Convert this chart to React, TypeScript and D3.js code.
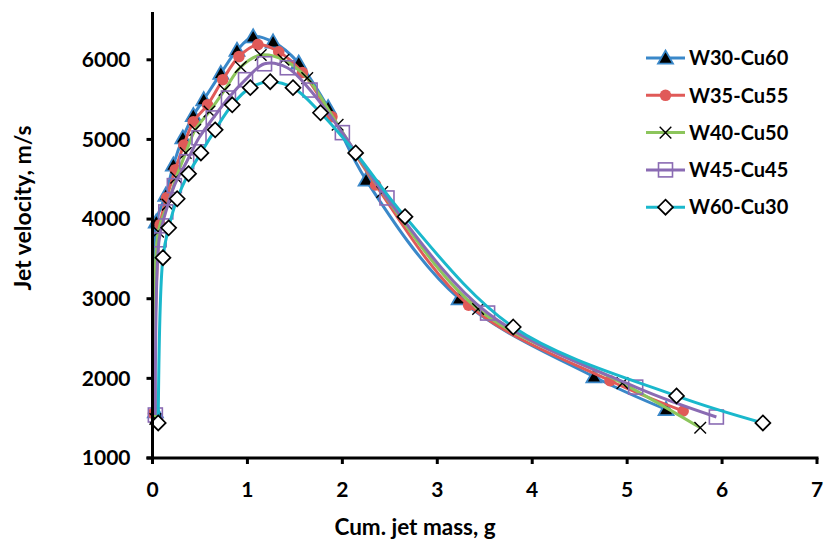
import React, { useEffect, useRef } from 'react';
import * as d3 from 'd3';

// Cum. jet mass (g) / jet velocity (m/s)
const w30Mass = [0.03, 0.04, 0.14, 0.22, 0.32, 0.43, 0.54, 0.72, 0.89, 1.06, 1.27, 1.54, 1.85, 2.25, 3.23, 4.65, 5.41];
const w30Vel = [1580, 3965, 4300, 4680, 5020, 5300, 5500, 5830, 6120, 6290, 6225, 5960, 5400, 4490, 3000, 2020, 1610];

const w35Mass = [0.01, 0.08, 0.15, 0.24, 0.33, 0.43, 0.58, 0.74, 0.91, 1.11, 1.33, 1.58, 1.89, 2.35, 3.33, 4.82, 5.59];
const w35Vel = [1560, 3930, 4270, 4620, 4930, 5220, 5435, 5750, 6040, 6190, 6100, 5840, 5285, 4430, 2920, 1970, 1590];

const w40Mass = [0.03, 0.06, 0.16, 0.25, 0.35, 0.45, 0.6, 0.76, 0.93, 1.14, 1.38, 1.63, 1.95, 2.42, 3.43, 4.95, 5.77];
const w40Vel = [1490, 3840, 4180, 4520, 4830, 5120, 5350, 5620, 5910, 6060, 6000, 5770, 5185, 4340, 2870, 1940, 1380];

const w45Mass = [0.03, 0.07, 0.14, 0.23, 0.36, 0.49, 0.64, 0.8, 0.98, 1.18, 1.42, 1.66, 2.0, 2.47, 3.53, 5.09, 5.94];
const w45Vel = [1540, 3740, 4090, 4420, 4720, 5020, 5270, 5520, 5750, 5950, 5900, 5620, 5085, 4265, 2820, 1890, 1515];

const w60Mass = [0.06, 0.11, 0.17, 0.26, 0.38, 0.51, 0.66, 0.84, 1.03, 1.24, 1.48, 1.77, 2.14, 2.66, 3.8, 5.52, 6.43];
const w60Vel = [1440, 3515, 3890, 4255, 4570, 4830, 5120, 5435, 5650, 5725, 5650, 5335, 4830, 4030, 2645, 1780, 1440];

const seriesNames = ['W30-Cu60', 'W35-Cu55', 'W40-Cu50', 'W45-Cu45', 'W60-Cu30'];
const xTicks = [0, 1, 2, 3, 4, 5, 6, 7];
const yTicks = [1000, 2000, 3000, 4000, 5000, 6000];

type Pt = { x: number; y: number };

const zip = (xs: number[], ys: number[]): Pt[] => xs.map((x, i) => ({ x, y: ys[i] }));

const series = [
  { name: seriesNames[0], pts: zip(w30Mass, w30Vel), color: '#3a88c9', marker: 'triangle' },
  { name: seriesNames[1], pts: zip(w35Mass, w35Vel), color: '#e05a58', marker: 'circle' },
  { name: seriesNames[2], pts: zip(w40Mass, w40Vel), color: '#8cc55c', marker: 'cross' },
  { name: seriesNames[3], pts: zip(w45Mass, w45Vel), color: '#8a6bb3', marker: 'square' },
  { name: seriesNames[4], pts: zip(w60Mass, w60Vel), color: '#1ab8cc', marker: 'diamond' },
];

const FONT = 'Lato, "Open Sans", sans-serif';

function drawMarker(g: d3.Selection<SVGGElement, unknown, null, undefined>, kind: string, cx: number, cy: number, color: string) {
  if (kind === 'triangle') {
    const s = 7.5;
    g.append('path')
      .attr('d', `M${cx},${cy - s} L${cx + s},${cy + s * 0.75} L${cx - s},${cy + s * 0.75} Z`)
      .attr('fill', '#000')
      .attr('stroke', color)
      .attr('stroke-width', 1.8);
  } else if (kind === 'circle') {
    g.append('circle').attr('cx', cx).attr('cy', cy).attr('r', 5.8).attr('fill', color);
  } else if (kind === 'cross') {
    const s = 5.8;
    g.append('path')
      .attr('d', `M${cx - s},${cy - s} L${cx + s},${cy + s} M${cx - s},${cy + s} L${cx + s},${cy - s}`)
      .attr('stroke', '#000')
      .attr('stroke-width', 1.4)
      .attr('fill', 'none');
  } else if (kind === 'square') {
    const s = 7;
    g.append('rect')
      .attr('x', cx - s).attr('y', cy - s)
      .attr('width', 2 * s).attr('height', 2 * s)
      .attr('fill', 'none')
      .attr('stroke', color)
      .attr('stroke-width', 1.6);
  } else if (kind === 'diamond') {
    const s = 7.5;
    g.append('path')
      .attr('d', `M${cx},${cy - s} L${cx + s},${cy} L${cx},${cy + s} L${cx - s},${cy} Z`)
      .attr('fill', '#fff')
      .attr('stroke', '#000')
      .attr('stroke-width', 1.7);
  }
}

const JetChart = () => {
  const svgRef = useRef<SVGSVGElement>(null);

  useEffect(() => {
    const svg = d3.select(svgRef.current);
    svg.selectAll('*').remove();

    const width = 824;
    const height = 544;
    const margin = { top: 12, right: 7, bottom: 86, left: 152.5 };

    const x = d3.scaleLinear().domain([0, 7]).range([margin.left, width - margin.right]);
    const y = d3.scaleLinear().domain([1000, 6600]).range([height - margin.bottom, margin.top]);

    const root = svg.append('g');

    // series: line then markers, drawn in order so later series sit on top
    const line = d3.line<Pt>()
      .x(d => x(d.x))
      .y(d => y(d.y))
      .curve(d3.curveCatmullRom.alpha(0.5));

    series.forEach(s => {
      const g = root.append('g');
      g.append('path')
        .attr('d', line(s.pts))
        .attr('fill', 'none')
        .attr('stroke', s.color)
        .attr('stroke-width', 3)
        .attr('stroke-linejoin', 'round');
      s.pts.forEach(p => drawMarker(g, s.marker, x(p.x), y(p.y), s.color));
    });

    // axes
    const axisColor = '#000';
    const xAxis = root.append('g').attr('transform', `translate(0,${y(1000)})`);
    xAxis.append('line')
      .attr('x1', x(0) - 6).attr('x2', x(7) + 1.5)
      .attr('stroke', axisColor).attr('stroke-width', 3);
    xTicks.forEach(t => {
      xAxis.append('line')
        .attr('x1', x(t)).attr('x2', x(t)).attr('y1', 0).attr('y2', 6)
        .attr('stroke', axisColor).attr('stroke-width', 3);
      xAxis.append('text')
        .attr('x', x(t)).attr('y', 39)
        .attr('text-anchor', 'middle')
        .attr('font-family', FONT).attr('font-weight', 700).attr('font-size', 21)
        .text(t);
    });

    const yAxis = root.append('g').attr('transform', `translate(${x(0)},0)`);
    yAxis.append('line')
      .attr('y1', y(6600)).attr('y2', y(1000) + 6)
      .attr('stroke', axisColor).attr('stroke-width', 3);
    yTicks.forEach(t => {
      yAxis.append('line')
        .attr('x1', -6).attr('x2', 0).attr('y1', y(t)).attr('y2', y(t))
        .attr('stroke', axisColor).attr('stroke-width', 3);
      yAxis.append('text')
        .attr('x', -22).attr('y', y(t))
        .attr('dy', '0.35em')
        .attr('text-anchor', 'end')
        .attr('font-family', FONT).attr('font-weight', 700).attr('font-size', 21)
        .text(t);
    });

    // axis titles
    root.append('text')
      .attr('x', 415).attr('y', 535)
      .attr('text-anchor', 'middle')
      .attr('font-family', FONT).attr('font-weight', 700).attr('font-size', 22.5)
      .text('Cum. jet mass, g');
    root.append('text')
      .attr('transform', `translate(31,208) rotate(-90)`)
      .attr('text-anchor', 'middle')
      .attr('font-family', FONT).attr('font-weight', 700).attr('font-size', 23)
      .text('Jet velocity, m/s');

    // legend
    const legend = root.append('g').attr('transform', 'translate(646,58)');
    series.forEach((s, i) => {
      const row = legend.append('g').attr('transform', `translate(0,${i * 37.3})`);
      row.append('line')
        .attr('x1', 0).attr('x2', 39)
        .attr('stroke', s.color).attr('stroke-width', 3);
      drawMarker(row, s.marker, 19.5, 0, s.color);
      row.append('text')
        .attr('x', 43).attr('y', 0).attr('dy', '0.36em')
        .attr('font-family', FONT).attr('font-weight', 700).attr('font-size', 20)
        .text(s.name);
    });
  }, []);

  return <svg ref={svgRef} width={824} height={544} style={{ display: 'block' }} />;
};

export default function App() {
  return (
    <div style={{ position: 'absolute', left: 0, top: 0 }}>
      <JetChart />
    </div>
  );
}
